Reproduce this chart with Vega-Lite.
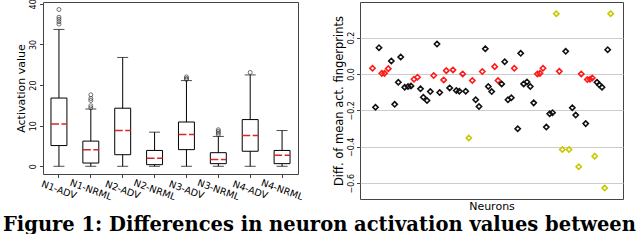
{
  "$schema": "https://vega.github.io/schema/vega-lite/v6.json",
  "padding": {"left": 2, "top": -2, "right": 0, "bottom": 0},
  "background": "white",
  "spacing": 27,
  "config": {
    "font": "DejaVu Sans",
    "view": {"stroke": "#444", "strokeWidth": 1},
    "axis": {"labelColor": "black", "titleColor": "black", "tickColor": "#444", "domain": false, "titleFontWeight": "normal", "labelFont": "DejaVu Sans", "titleFont": "DejaVu Sans"}
  },
  "title": {
    "text": "Figure 1: Differences in neuron activation values between",
    "orient": "bottom",
    "anchor": "start",
    "font": "DejaVu Serif",
    "fontSize": 19.5,
    "fontWeight": "bold",
    "color": "black",
    "offset": 4,
    "dx": -12
  },
  "datasets": {
    "boxes": [
      {"cat": "N1-ADV", "lo": 0, "q1": 5.1, "med": 10.4, "q3": 16.8, "hi": 33.7},
      {"cat": "N1-NRML", "lo": 0, "q1": 0.8, "med": 4.1, "q3": 6.2, "hi": 14.1},
      {"cat": "N2-ADV", "lo": 0, "q1": 2.85, "med": 8.8, "q3": 14.3, "hi": 26.8},
      {"cat": "N2-NRML", "lo": 0, "q1": 0.4, "med": 2.0, "q3": 3.9, "hi": 8.4},
      {"cat": "N3-ADV", "lo": 0, "q1": 4.1, "med": 7.8, "q3": 10.9, "hi": 21.1},
      {"cat": "N3-NRML", "lo": 0, "q1": 0.65, "med": 1.65, "q3": 3.35, "hi": 7.35},
      {"cat": "N4-ADV", "lo": 0, "q1": 3.7, "med": 7.6, "q3": 11.5, "hi": 22.5},
      {"cat": "N4-NRML", "lo": 0, "q1": 0.65, "med": 2.7, "q3": 3.9, "hi": 8.8}
    ],
    "outliers": [
      {"cat": "N1-ADV", "v": 35.0}, {"cat": "N1-ADV", "v": 35.6}, {"cat": "N1-ADV", "v": 36.2}, {"cat": "N1-ADV", "v": 36.7}, {"cat": "N1-ADV", "v": 38.6},
      {"cat": "N1-NRML", "v": 14.4}, {"cat": "N1-NRML", "v": 14.9}, {"cat": "N1-NRML", "v": 16.2}, {"cat": "N1-NRML", "v": 16.7}, {"cat": "N1-NRML", "v": 17.6},
      {"cat": "N3-ADV", "v": 21.4}, {"cat": "N3-ADV", "v": 21.6}, {"cat": "N3-ADV", "v": 22.0},
      {"cat": "N3-NRML", "v": 7.8}, {"cat": "N3-NRML", "v": 8.2}, {"cat": "N3-NRML", "v": 8.6}, {"cat": "N3-NRML", "v": 9.0},
      {"cat": "N4-ADV", "v": 23.1}
    ],
    "neurons": [
      {"n": 4.75, "d": 0.031, "group": "red"},
      {"n": 8.29, "d": 0.003, "group": "red"},
      {"n": 9.32, "d": 0.003, "group": "red"},
      {"n": 10.76, "d": 0.029, "group": "red"},
      {"n": 20.53, "d": -0.029, "group": "red"},
      {"n": 21.86, "d": -0.018, "group": "red"},
      {"n": 28.02, "d": -0.009, "group": "red"},
      {"n": 31.83, "d": -0.033, "group": "red"},
      {"n": 32.81, "d": 0.018, "group": "red"},
      {"n": 35.36, "d": 0.022, "group": "red"},
      {"n": 39.05, "d": 0.0, "group": "red"},
      {"n": 42.7, "d": -0.036, "group": "red"},
      {"n": 46.5, "d": 0.013, "group": "red"},
      {"n": 51.22, "d": 0.04, "group": "red"},
      {"n": 52.47, "d": -0.036, "group": "red"},
      {"n": 58.67, "d": 0.031, "group": "red"},
      {"n": 67.49, "d": 0.0, "group": "red"},
      {"n": 68.44, "d": 0.003, "group": "red"},
      {"n": 69.58, "d": 0.031, "group": "red"},
      {"n": 75.78, "d": 0.014, "group": "red"},
      {"n": 84.14, "d": 0.0, "group": "red"},
      {"n": 86.43, "d": -0.031, "group": "red"},
      {"n": 87.45, "d": -0.029, "group": "red"},
      {"n": 88.33, "d": -0.022, "group": "red"},
      {"n": 7.22, "d": 0.144, "group": "black"},
      {"n": 5.89, "d": -0.183, "group": "black"},
      {"n": 11.9, "d": 0.071, "group": "black"},
      {"n": 15.48, "d": 0.093, "group": "black"},
      {"n": 13.19, "d": -0.167, "group": "black"},
      {"n": 14.56, "d": -0.046, "group": "black"},
      {"n": 17.0, "d": -0.073, "group": "black"},
      {"n": 18.25, "d": -0.069, "group": "black"},
      {"n": 19.39, "d": -0.066, "group": "black"},
      {"n": 23.0, "d": -0.082, "group": "black"},
      {"n": 24.07, "d": -0.128, "group": "black"},
      {"n": 25.48, "d": -0.146, "group": "black"},
      {"n": 26.73, "d": -0.097, "group": "black"},
      {"n": 29.28, "d": 0.164, "group": "black"},
      {"n": 30.3, "d": -0.102, "group": "black"},
      {"n": 34.11, "d": -0.077, "group": "black"},
      {"n": 36.62, "d": -0.091, "group": "black"},
      {"n": 37.76, "d": -0.095, "group": "black"},
      {"n": 40.19, "d": -0.095, "group": "black"},
      {"n": 43.99, "d": -0.142, "group": "black"},
      {"n": 45.25, "d": -0.179, "group": "black"},
      {"n": 47.64, "d": 0.138, "group": "black"},
      {"n": 48.78, "d": -0.069, "group": "black"},
      {"n": 50.08, "d": -0.097, "group": "black"},
      {"n": 53.88, "d": -0.055, "group": "black"},
      {"n": 55.02, "d": 0.067, "group": "black"},
      {"n": 56.27, "d": -0.142, "group": "black"},
      {"n": 57.53, "d": -0.131, "group": "black"},
      {"n": 61.1, "d": 0.113, "group": "black"},
      {"n": 62.24, "d": -0.055, "group": "black"},
      {"n": 63.5, "d": -0.044, "group": "black"},
      {"n": 64.75, "d": -0.069, "group": "black"},
      {"n": 66.05, "d": -0.159, "group": "black"},
      {"n": 59.96, "d": -0.301, "group": "black"},
      {"n": 70.84, "d": -0.292, "group": "black"},
      {"n": 72.13, "d": -0.219, "group": "black"},
      {"n": 73.19, "d": -0.213, "group": "black"},
      {"n": 78.21, "d": 0.124, "group": "black"},
      {"n": 80.72, "d": -0.186, "group": "black"},
      {"n": 82.02, "d": -0.226, "group": "black"},
      {"n": 85.82, "d": -0.273, "group": "black"},
      {"n": 90.11, "d": -0.046, "group": "black"},
      {"n": 90.99, "d": -0.06, "group": "black"},
      {"n": 92.02, "d": -0.073, "group": "black"},
      {"n": 94.18, "d": 0.133, "group": "black"},
      {"n": 74.64, "d": 0.331, "group": "yellow"},
      {"n": 95.32, "d": 0.331, "group": "yellow"},
      {"n": 41.37, "d": -0.352, "group": "yellow"},
      {"n": 76.92, "d": -0.415, "group": "yellow"},
      {"n": 79.47, "d": -0.415, "group": "yellow"},
      {"n": 83.16, "d": -0.51, "group": "yellow"},
      {"n": 89.24, "d": -0.452, "group": "yellow"},
      {"n": 93.04, "d": -0.627, "group": "yellow"}
    ]
  },
  "hconcat": [
    {
      "width": 255,
      "height": 172,
      "encoding": {
        "x": {
          "field": "cat", "type": "nominal", "sort": null,
          "scale": {"type": "band", "paddingInner": 0, "paddingOuter": 0},
          "axis": {"title": null, "labelAngle": 20, "labelAlign": "center", "labelBaseline": "middle", "labelPadding": 12, "labelFontSize": 9.5, "tickSize": 3.5, "labelOverlap": false}
        }
      },
      "layer": [
        {
          "data": {"name": "boxes"},
          "mark": {"type": "rule", "color": "black", "strokeWidth": 1},
          "encoding": {
            "y": {"field": "lo", "type": "quantitative",
              "scale": {"domain": [-1.9, 40.45], "nice": false, "zero": false},
              "axis": {"title": "Activation value", "titleFontSize": 11, "titlePadding": 3, "values": [0, 5, 10, 15, 20, 25, 30, 35, 40], "labelAngle": -90, "labelAlign": "center", "labelBaseline": "bottom", "labelPadding": 2, "labelFontSize": 8, "tickSize": 3.5, "grid": false}},
            "y2": {"field": "hi"}
          }
        },
        {
          "data": {"name": "boxes"},
          "mark": {"type": "bar", "fill": "white", "stroke": "black", "strokeWidth": 1, "width": {"band": 0.5}},
          "encoding": {
            "y": {"field": "q1", "type": "quantitative"},
            "y2": {"field": "q3"}
          }
        },
        {
          "data": {"name": "boxes"},
          "mark": {"type": "tick", "color": "black", "size": 11, "thickness": 1},
          "encoding": {"y": {"field": "lo", "type": "quantitative"}}
        },
        {
          "data": {"name": "boxes"},
          "mark": {"type": "tick", "color": "black", "size": 11, "thickness": 1},
          "encoding": {"y": {"field": "hi", "type": "quantitative"}}
        },
        {
          "data": {"name": "boxes"},
          "mark": {"type": "rule", "color": "#d62728", "strokeWidth": 1.5, "strokeDash": [8, 2.5]},
          "encoding": {
            "x": {"field": "cat", "type": "nominal", "sort": null, "bandPosition": 0.25},
            "x2": {"field": "cat", "bandPosition": 0.75},
            "y": {"field": "med", "type": "quantitative"}
          }
        },
        {
          "data": {"name": "outliers"},
          "mark": {"type": "point", "shape": "circle", "filled": false, "color": "#333", "size": 16, "strokeWidth": 1},
          "encoding": {"y": {"field": "v", "type": "quantitative"}}
        }
      ]
    },
    {
      "width": 263,
      "height": 197,
      "data": {"name": "neurons"},
      "mark": {"type": "point", "shape": "diamond", "filled": false, "size": 28, "strokeWidth": 1.6, "opacity": 1},
      "encoding": {
        "x": {"field": "n", "type": "quantitative", "scale": {"domain": [0, 100], "nice": false},
          "axis": {"title": "Neurons", "titleFontSize": 11, "titlePadding": 1, "labels": false, "ticks": false, "grid": false}},
        "y": {"field": "d", "type": "quantitative", "scale": {"domain": [-0.687, 0.395], "nice": false, "zero": false},
          "axis": {"title": "Diff. of mean act. fingerprints", "titleFontSize": 11.5, "titlePadding": 3, "values": [-0.6, -0.4, -0.2, 0, 0.2], "format": ".1f", "labelAngle": -90, "labelAlign": "center", "labelBaseline": "bottom", "labelPadding": 1.5, "labelFontSize": 8, "tickSize": 3.5, "grid": true, "gridColor": "#ccc", "gridWidth": 1}},
        "color": {"field": "group", "type": "nominal", "legend": null,
          "scale": {"domain": ["black", "red", "yellow"], "range": ["#111111", "#ff1a1a", "#c8c800"]}}
      }
    }
  ]
}
